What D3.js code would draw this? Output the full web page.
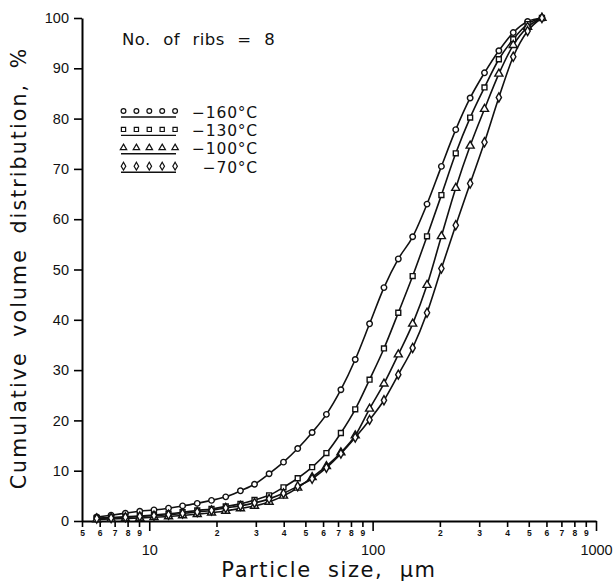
<!DOCTYPE html>
<html><head><meta charset="utf-8">
<script src="https://cdn.jsdelivr.net/npm/d3@7"></script>
<style>
html,body{margin:0;padding:0;background:#fff;}
svg{display:block;font-family:"DejaVu Sans","Liberation Sans",sans-serif;}
</style></head>
<body><svg id="c" width="616" height="584"></svg>
<script>
// particle size grid (µm), shared by all series
const sizes = [5.82, 6.75, 7.82, 9.07, 10.5, 12.2, 14.1, 16.4, 19.0, 22.0, 25.6, 29.6, 34.4, 39.9, 46.2, 53.6, 62.1, 72.1, 83.6, 96.9, 112.4, 130.3, 151.1, 175.2, 203.2, 235.6, 273.3, 316.8, 367.4, 426.1, 494.1, 572.8];
// cumulative volume distribution (%)
const s160 = [0.8,1.15,1.55,1.95,2.2,2.55,3.0,3.5,4.1,4.8,6.0,7.3,9.4,11.7,14.4,17.6,21.2,26.1,32.1,39.2,46.4,52.1,56.5,63.0,70.5,77.8,84.1,89.1,93.5,97.1,99.3,100];
const s130 = [0.6,0.7,0.85,1.0,1.2,1.45,1.75,2.1,2.4,2.9,3.4,4.2,5.1,6.7,8.5,10.7,13.5,17.5,22.2,28.1,34.3,41.4,48.7,56.6,64.8,73.1,80.2,86.2,91.8,95.8,98.8,100];
const s100 = [0.3,0.4,0.5,0.6,0.75,0.9,1.1,1.35,1.65,2.0,2.5,3.0,3.8,5.0,6.6,8.7,10.9,13.6,17.0,22.3,27.3,33.1,39.2,46.9,56.6,66.2,74.6,81.9,88.9,94.6,98.2,100];
const s70  = [0.5,0.6,0.75,0.9,1.05,1.25,1.5,1.8,2.1,2.6,3.0,3.6,4.4,5.5,6.9,8.4,10.6,13.4,16.6,20.1,24.0,29.1,34.4,41.4,50.2,58.8,67.1,75.3,84.2,92.3,97.4,100];
const seriesNames = ["\u2212160\u00B0C","\u2212130\u00B0C","\u2212100\u00B0C","\u221270\u00B0C"];
const seriesValues = [s160, s130, s100, s70];
const seriesSymbols = [d3.symbolCircle, d3.symbolSquare, d3.symbolTriangle, d3.symbolDiamond];
const yTicks = [0,10,20,30,40,50,60,70,80,90,100];
const xMajor = [10,100,1000];
const xMinorLabelled = [5,6,7,8,9,20,30,40,50,60,70,80,90,200,300,400,500,600,700,800,900];
const yTitle = "Cumulative volume distribution, %";
const xTitle = "Particle size, \u03BCm";
const note = "No. of ribs = 8";

const svg = d3.select("#c");
const x = d3.scaleLog().domain([5,1000]).range([82,596]);
const y = d3.scaleLinear().domain([0,100]).range([521,18]);

// Y axis
const ya = svg.append("g").attr("transform","translate(82,0)")
  .call(d3.axisLeft(y).tickValues(yTicks).tickSize(8).tickPadding(5).tickSizeOuter(0));
ya.select(".domain").attr("stroke","#000").attr("stroke-width",2);
ya.selectAll(".tick line").attr("stroke","#000").attr("stroke-width",1.6);
ya.selectAll(".tick text").attr("font-size",14.5).attr("fill","#111");

// X axis: minor ticks with small labels
const xa = svg.append("g").attr("transform","translate(0,521)")
  .call(d3.axisBottom(x).tickValues(xMinorLabelled).tickSize(6).tickPadding(3).tickSizeOuter(0)
    .tickFormat(d => String(d).charAt(0)));
xa.select(".domain").attr("stroke","#000").attr("stroke-width",2);
xa.selectAll(".tick line").attr("stroke","#000").attr("stroke-width",1.6);
xa.selectAll(".tick text").attr("font-size",8.5).attr("font-weight","bold").attr("fill","#111");
// major ticks
const xm = svg.append("g").attr("transform","translate(0,521)")
  .call(d3.axisBottom(x).tickValues(xMajor).tickSize(10).tickPadding(14).tickFormat(d3.format("d")));
xm.select(".domain").remove();
xm.selectAll(".tick line").attr("stroke","#000").attr("stroke-width",1.6);
xm.selectAll(".tick text").attr("font-size",14.5).attr("fill","#111");

// titles
svg.append("text").attr("x",329).attr("y",577).attr("text-anchor","middle")
  .attr("font-size",21).attr("word-spacing",8).attr("letter-spacing",1.6).attr("fill","#111").text(xTitle);
svg.append("text").attr("transform","translate(26,268) rotate(-90)").attr("text-anchor","middle")
  .attr("font-size",20.5).attr("word-spacing",6).attr("letter-spacing",2.1).attr("fill","#111").text(yTitle);
svg.append("text").attr("x",122).attr("y",45).attr("font-size",16.5).attr("word-spacing",7)
  .attr("letter-spacing",0.4).attr("fill","#111").text(note);

// curves
const line = d3.line().x((d,i)=>x(sizes[i])).y(d=>y(d)).curve(d3.curveMonotoneX);
seriesValues.forEach((vals,k)=>{
  svg.append("path").datum(vals).attr("d",line).attr("fill","none")
    .attr("stroke","#111").attr("stroke-width",1.6);
  svg.append("g").selectAll("path").data(vals).join("path")
    .attr("transform",(d,i)=>`translate(${x(sizes[i])},${y(d)})`)
    .attr("d",d3.symbol().type(seriesSymbols[k]).size(k===2?28:24))
    .attr("fill","#fff").attr("stroke","#111").attr("stroke-width",1.4);
});

// legend
const lg = svg.append("g");
seriesNames.forEach((name,k)=>{
  const cy = 111 + k*18.4;
  const g = lg.append("g");
  g.append("line").attr("x1",121).attr("x2",176).attr("y1",cy+6).attr("y2",cy+6)
    .attr("stroke","#111").attr("stroke-width",1.4);
  g.selectAll("path").data(d3.range(5)).join("path")
    .attr("transform",i=>`translate(${123.5+i*12.9},${cy})`)
    .attr("d",d3.symbol().type(seriesSymbols[k]).size(18))
    .attr("fill","#fff").attr("stroke","#111").attr("stroke-width",1.2);
  g.append("text").attr("x",258).attr("y",cy+6.5).attr("text-anchor","end")
    .attr("font-size",15.5).attr("letter-spacing",0.8).attr("fill","#111").text(name);
});
</script></body></html>
